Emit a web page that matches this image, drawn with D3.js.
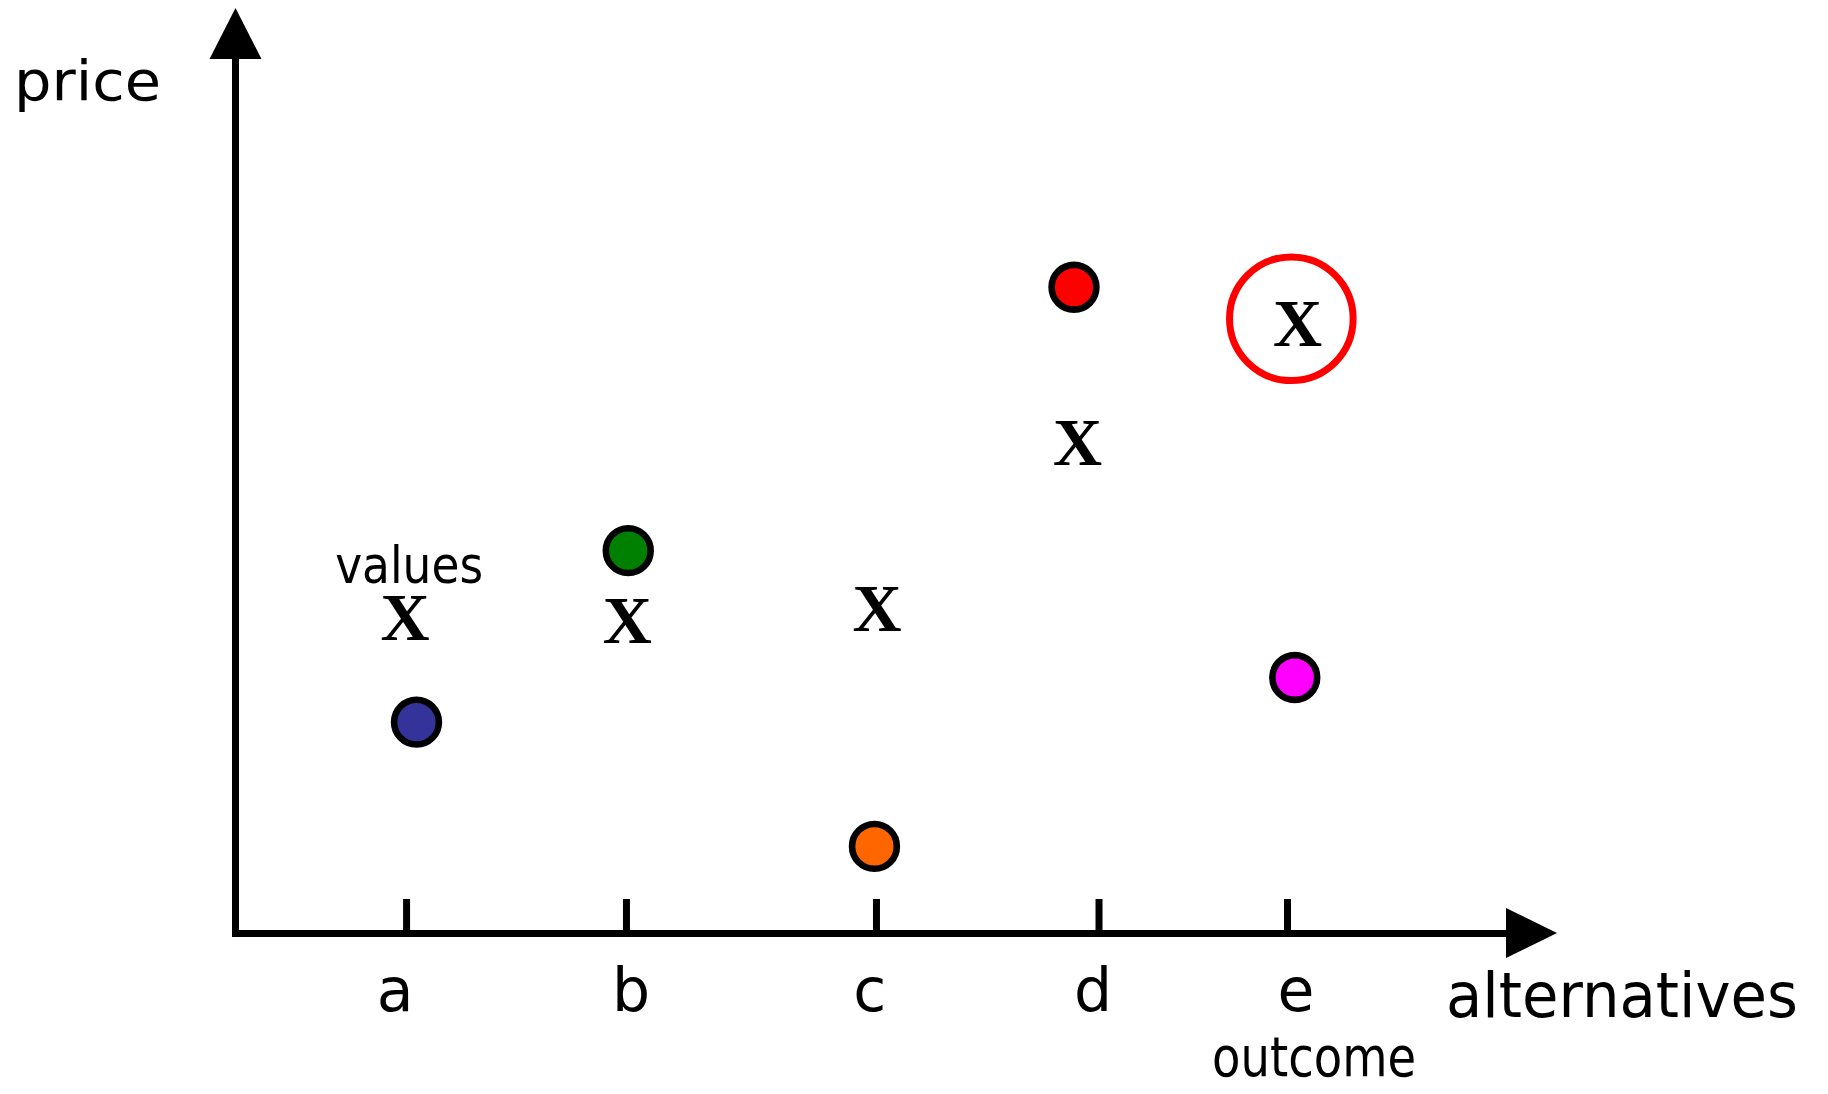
<!DOCTYPE html>
<html>
<head>
<meta charset="utf-8">
<script src="https://cdn.jsdelivr.net/npm/d3@7"></script>
<style>
  html, body { margin: 0; padding: 0; background: #ffffff; }
  svg { display: block; }
</style>
</head>
<body>
<script>
// ---- data ----
const categories = ["a", "b", "c", "d", "e"];
// position of each alternative's tick along the alternatives axis (axis units 0..10)
const tickX  = [1.346, 3.076, 5.043, 6.794, 8.277];
const labelX = [1.259, 3.116, 4.994, 6.751, 8.348];
// prices (coloured dots)
const priceX = [1.428, 3.094, 5.031, 6.601, 8.338];
const priceY = [2.41, 4.37, 0.99, 7.38, 2.92];
const priceColors = ["#333399", "#008000", "#ff6600", "#ff0000", "#ff00ff"];
// values (X marks)
const valueX = [1.338, 3.086, 5.051, 6.629, 8.360];
const valueY = [3.53, 3.50, 3.64, 5.53, 6.89];
// highlighted outcome
const outcomeIndex = 4;
const outcomeCenter = [8.311, 7.02];
// annotations
const annoText = ["values", "outcome"];
const annoX = [1.37, 8.49];
const annoY = [4.00, -1.635];
const annoWidth = [148, 204];

// ---- drawing ----
const W = 1828, H = 1094;
const svg = d3.select("body").append("svg").attr("width", W).attr("height", H);

const x = d3.scaleLinear().domain([0, 10]).range([235, 1506]);
const y = d3.scaleLinear().domain([0, 10]).range([933, 58]);

const AXW = 7;
const sans = "'DejaVu Sans', sans-serif";

// x axis (ticks pointing up, no labels)
const xAxis = d3.axisTop(x).tickValues(tickX).tickSizeInner(34).tickSizeOuter(0).tickFormat("");
const gx = svg.append("g").attr("transform", `translate(0,${y(0)})`).call(xAxis);
gx.select(".domain").attr("stroke", "#000").attr("stroke-width", AXW).attr("stroke-linecap", "square");
gx.selectAll(".tick line").attr("stroke", "#000").attr("stroke-width", AXW);

// y axis (no ticks)
const yAxis = d3.axisLeft(y).tickValues([]).tickSizeOuter(0);
const gy = svg.append("g").attr("transform", `translate(${x(0)},0)`).call(yAxis);
gy.select(".domain").attr("stroke", "#000").attr("stroke-width", AXW).attr("stroke-linecap", "square");

// arrowheads
const xEnd = x.range()[1], yEnd = y.range()[1];
svg.append("path")
  .attr("d", `M${xEnd},${y(0) - 25}L${xEnd + 51},${y(0)}L${xEnd},${y(0) + 25}Z`)
  .attr("fill", "#000");
svg.append("path")
  .attr("d", `M${x(0) - 25.5},${yEnd + 1}L${x(0) + 0.5},${yEnd - 50}L${x(0) + 26.5},${yEnd + 1}Z`)
  .attr("fill", "#000");

// tick labels
svg.append("g").selectAll("text").data(categories).join("text")
  .attr("x", (d, i) => x(labelX[i]))
  .attr("y", 1011)
  .attr("text-anchor", "middle")
  .attr("font-family", sans)
  .attr("font-size", 60)
  .attr("fill", "#000")
  .text(d => d);

// axis titles
svg.append("text")
  .attr("x", 14).attr("y", 100)
  .attr("font-family", sans).attr("font-size", 55)
  .attr("textLength", 147).attr("lengthAdjust", "spacingAndGlyphs")
  .text("price");
svg.append("text")
  .attr("x", 1446).attr("y", 1017)
  .attr("font-family", sans).attr("font-size", 62)
  .attr("textLength", 352).attr("lengthAdjust", "spacingAndGlyphs")
  .text("alternatives");

// annotations
svg.append("g").selectAll("text").data(annoText).join("text")
  .attr("x", (d, i) => x(annoX[i]) - annoWidth[i] / 2)
  .attr("y", (d, i) => y(annoY[i]))
  .attr("font-family", sans)
  .attr("font-size", (d, i) => i === 0 ? 52 : 56)
  .attr("textLength", (d, i) => annoWidth[i])
  .attr("lengthAdjust", "spacingAndGlyphs")
  .text(d => d);

// value marks (X)
svg.append("g").selectAll("text").data(categories).join("text")
  .attr("x", (d, i) => x(valueX[i]))
  .attr("y", (d, i) => y(valueY[i]))
  .attr("dy", "0.24em")
  .attr("text-anchor", "middle")
  .attr("font-family", "'Liberation Serif', 'Times New Roman', serif")
  .attr("font-weight", "bold")
  .attr("font-size", 68)
  .attr("fill", "#000")
  .text("X");

// price dots
svg.append("g").selectAll("circle").data(categories).join("circle")
  .attr("cx", (d, i) => x(priceX[i]))
  .attr("cy", (d, i) => y(priceY[i]))
  .attr("r", 22.4)
  .attr("fill", (d, i) => priceColors[i])
  .attr("stroke", "#000")
  .attr("stroke-width", 6.6);

// highlighted outcome ring
svg.append("circle")
  .attr("cx", x(outcomeCenter[0]))
  .attr("cy", y(outcomeCenter[1]))
  .attr("r", 61.8)
  .attr("fill", "none")
  .attr("stroke", "#ff0000")
  .attr("stroke-width", 7);
</script>
</body>
</html>
